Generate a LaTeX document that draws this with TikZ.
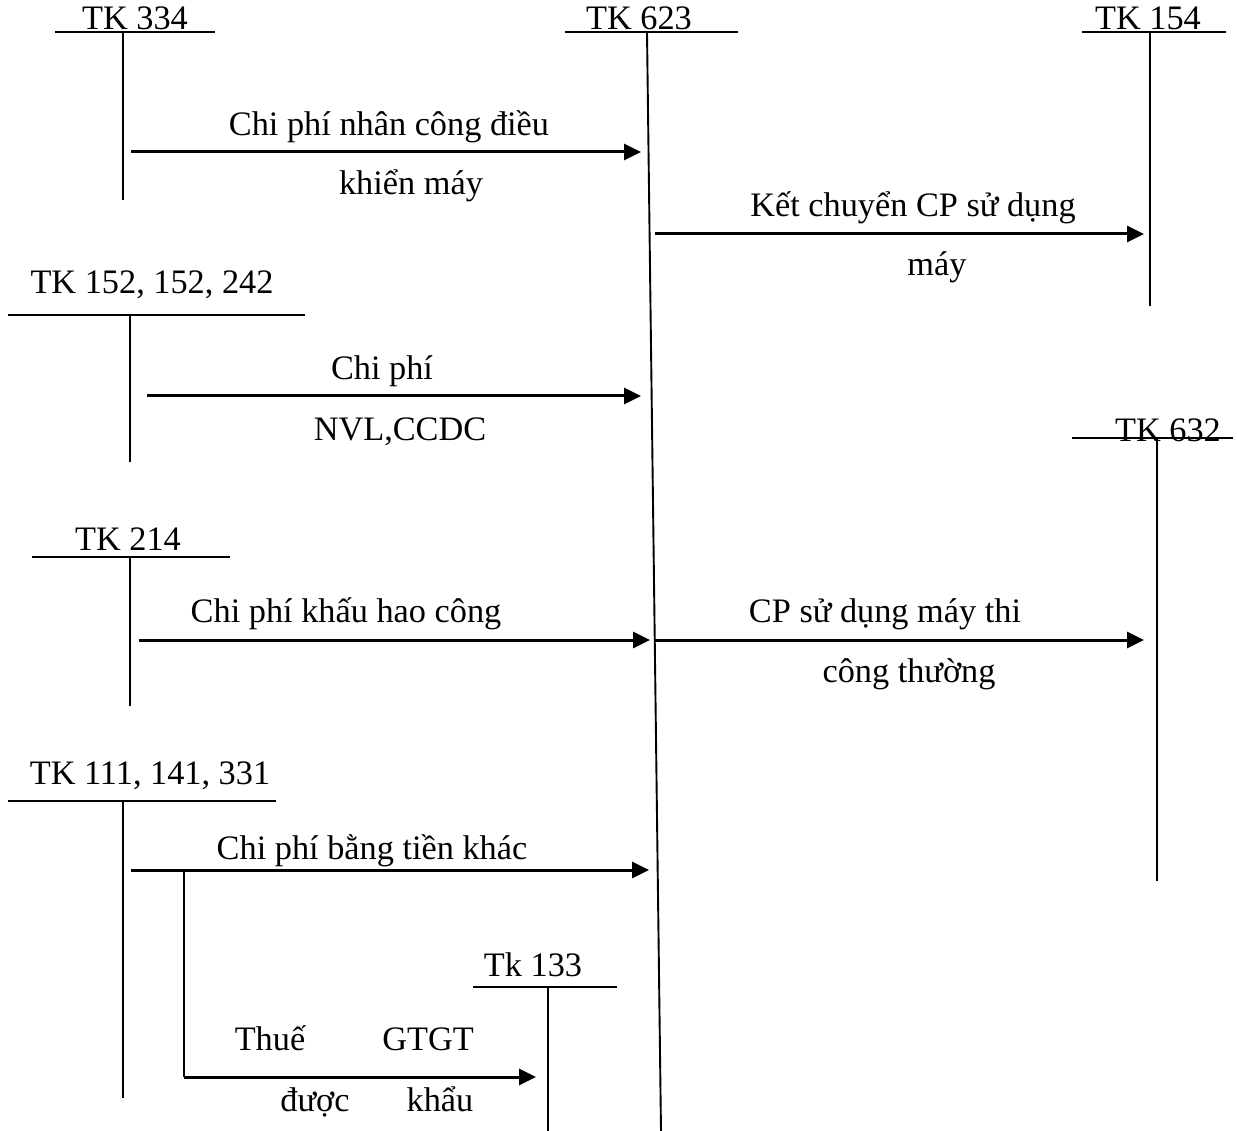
\documentclass[tikz,border=0pt]{standalone}
\usepackage{fontspec}
\setmainfont{Liberation Serif}
\usetikzlibrary{arrows.meta}
\begin{document}
\begin{tikzpicture}[x=1pt,y=-1pt,
  lbl/.style={anchor=base,inner sep=0pt,font=\fontsize{34.3}{40}\selectfont},
  tline/.style={line width=2.4pt},
  flow/.style={line width=3pt,-{Triangle[length=17pt,width=16pt]}},
  axis623/.style={line width=1.9pt}]
\useasboundingbox (0,0) rectangle (1237,1131);
% TK 334
\node[lbl] (t334) at (135,30) {TK 334};
\draw[tline] (55,32) -- (215,32);
\coordinate (v334a) at (123,32); \coordinate (v334b) at (123,200);
\draw[tline] (v334a) -- (v334b);
% TK 623
\node[lbl] (t623) at (639,30) {TK 623};
\draw[tline] (565,32) -- (738,32);
\coordinate (v623a) at (647,32); \coordinate (v623b) at (661,1131);
\draw[axis623] (v623a) -- (v623b);
% TK 154
\node[lbl] (t154) at (1148,30) {TK 154};
\draw[tline] (1082,32) -- (1226,32);
\coordinate (v154a) at (1150,32); \coordinate (v154b) at (1150,306);
\draw[tline] (v154a) -- (v154b);
% arrow 1
\coordinate (a1s) at (131,152); \coordinate (a1e) at (641,152);
\draw[flow] (a1s) -- (a1e);
\node[lbl] (l1a) at (389,136) {Chi phí nhân công điều};
\node[lbl] (l1b) at (411,195) {khiển máy};
% arrow 2
\coordinate (a2s) at (655,234); \coordinate (a2e) at (1144,234);
\draw[flow] (a2s) -- (a2e);
\node[lbl] (l2a) at (913,217) {Kết chuyển CP sử dụng};
\node[lbl] (l2b) at (937,276) {máy};
% TK 152
\node[lbl] (t152) at (152,294) {TK 152, 152, 242};
\draw[tline] (8,315) -- (305,315);
\coordinate (v152a) at (130,315); \coordinate (v152b) at (130,462);
\draw[tline] (v152a) -- (v152b);
% arrow 3
\coordinate (a3s) at (147,396); \coordinate (a3e) at (641,396);
\draw[flow] (a3s) -- (a3e);
\node[lbl] (l3a) at (382,380) {Chi phí};
\node[lbl] (l3b) at (400,440) {NVL,CCDC};
% TK 632
\node[lbl] (t632) at (1168,441) {TK 632};
\draw[tline] (1072,438) -- (1233,438);
\coordinate (v632a) at (1157,438); \coordinate (v632b) at (1157,881);
\draw[tline] (v632a) -- (v632b);
% TK 214
\node[lbl] (t214) at (128,550) {TK 214};
\draw[tline] (32,557) -- (230,557);
\coordinate (v214a) at (130,557); \coordinate (v214b) at (130,706);
\draw[tline] (v214a) -- (v214b);
% arrow 4
\coordinate (a4s) at (139,640); \coordinate (a4e) at (650,640);
\draw[flow] (a4s) -- (a4e);
\node[lbl] (l4) at (346,622) {Chi phí khấu hao công};
% arrow 5
\coordinate (a5s) at (655,640); \coordinate (a5e) at (1144,640);
\draw[flow] (a5s) -- (a5e);
\node[lbl] (l5a) at (885,622) {CP sử dụng máy thi};
\node[lbl] (l5b) at (909,682) {công thường};
% TK 111
\node[lbl] (t111) at (150,784) {TK 111, 141, 331};
\draw[tline] (8,801) -- (276,801);
\coordinate (v111a) at (123,801); \coordinate (v111b) at (123,1098);
\draw[tline] (v111a) -- (v111b);
% arrow 6
\coordinate (a6s) at (131,870); \coordinate (a6e) at (649,870);
\draw[flow] (a6s) -- (a6e);
\node[lbl] (l6) at (372,859) {Chi phí bằng tiền khác};
% branch to 133
\coordinate (b1) at (184,870); \coordinate (b2) at (184,1077);
\coordinate (a7e) at (536,1077);
\draw[tline] (b1) -- (b2);
\draw[flow] (b2) -- (a7e);
% Tk 133
\node[lbl] (t133) at (533,976) {Tk 133};
\draw[tline] (473,987) -- (617,987);
\coordinate (v133a) at (548,987); \coordinate (v133b) at (548,1131);
\draw[tline] (v133a) -- (v133b);
\node[lbl] (l7a) at (270,1050) {Thuế};
\node[lbl] (l7b) at (428,1050) {GTGT};
\node[lbl] (l7c) at (315,1111) {được};
\node[lbl] (l7d) at (440,1111) {khẩu};
\end{tikzpicture}
\end{document}
